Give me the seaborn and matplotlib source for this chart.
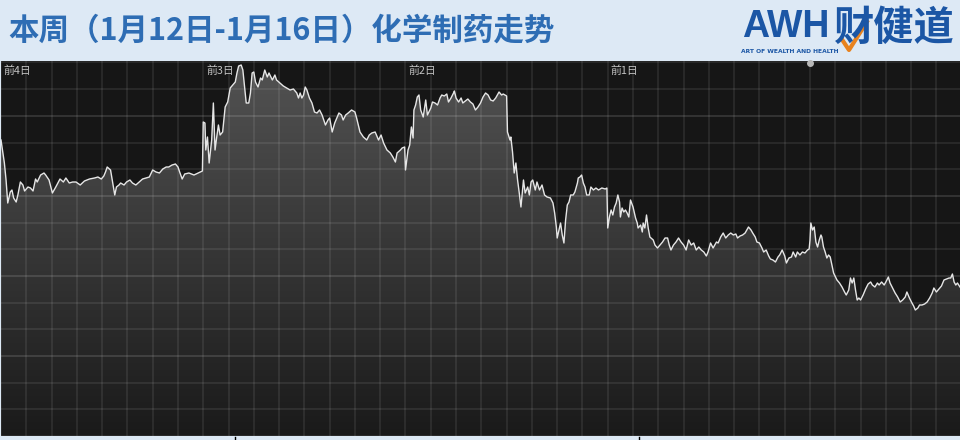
import numpy as np
import pandas as pd
import matplotlib.pyplot as plt
import seaborn as sns
from matplotlib.colors import LinearSegmentedColormap
from matplotlib.lines import Line2D

plt.rcParams["font.family"] = ["Noto Sans CJK SC", "DejaVu Sans"]

title = "本周（1月12日-1月16日）化学制药走势"
day_labels = ["前4日", "前3日", "前2日", "前1日"]

# minutes since the open and chart level, one pair per session
d1_min = [0, 4, 6, 8, 11, 13, 15, 18, 20, 23, 26, 28, 32, 35, 38, 41, 43, 47, 51, 53,
          57, 61, 65, 70, 74, 77, 81, 85, 89, 94, 99, 105, 111, 115, 119, 122, 124, 126, 130, 132,
          135, 137, 140, 142, 146, 149, 153, 156, 160, 164, 168, 172, 176, 180, 184, 188, 192, 196, 199, 203,
          207, 210, 212, 215, 218, 223, 229, 234, 239]
d1_val = [296, 273, 256, 233, 244, 246, 238, 234, 241, 254, 251, 245, 249, 248, 245, 257, 254, 261, 263, 261,
          256, 243, 249, 257, 254, 258, 253, 254, 254, 251, 255, 257, 258, 259, 257, 260, 264, 269, 266, 256,
          241, 249, 251, 253, 251, 254, 256, 253, 251, 254, 257, 258, 259, 266, 264, 263, 267, 269, 269, 271,
          272, 269, 264, 257, 262, 263, 261, 263, 265]

d2_min = [0, 2, 3, 5, 7, 10, 12, 14, 16, 18, 20, 23, 26, 29, 32, 35, 38, 40, 42, 45,
          47, 49, 51, 54, 56, 58, 60, 62, 65, 68, 70, 73, 76, 78, 82, 85, 87, 91, 95, 99,
          103, 107, 111, 113, 115, 117, 119, 121, 123, 126, 129, 132, 135, 138, 141, 145, 148, 150, 153, 156,
          159, 161, 164, 166, 169, 172, 176, 180, 182, 186, 190, 194, 197, 200, 204, 208, 211, 214, 218, 222,
          225, 228, 230, 234, 236, 239]
d2_val = [314, 313, 286, 299, 273, 296, 333, 286, 299, 311, 301, 304, 329, 334, 348, 351, 354, 363, 370, 371,
          366, 349, 333, 333, 343, 363, 364, 354, 349, 358, 356, 366, 359, 363, 356, 361, 356, 353, 350, 348,
          346, 347, 343, 338, 343, 338, 341, 349, 346, 338, 333, 324, 323, 326, 321, 311, 316, 318, 304, 313,
          319, 323, 321, 316, 321, 323, 326, 324, 318, 304, 299, 296, 301, 303, 304, 296, 301, 293, 286, 283,
          279, 274, 283, 286, 288, 289]

d3_min = [0, 3, 5, 7, 9, 10, 12, 14, 16, 18, 21, 24, 26, 30, 32, 35, 38, 41, 43, 46,
          49, 51, 54, 57, 58, 60, 63, 66, 68, 71, 74, 77, 80, 83, 86, 89, 92, 95, 98, 101,
          104, 107, 109, 111, 114, 116, 120, 121, 124, 125, 127, 129, 131, 133, 135, 137, 140, 142, 145, 147,
          149, 151, 154, 156, 159, 162, 165, 168, 172, 175, 177, 179, 180, 183, 184, 186, 188, 190, 192, 194,
          196, 199, 201, 204, 205, 207, 209, 211, 213, 215, 218, 220, 223, 226, 229, 233, 237, 239]
d3_val = [266, 286, 291, 309, 298, 326, 331, 339, 341, 326, 319, 336, 321, 328, 334, 333, 331, 338, 341, 340,
          342, 334, 338, 343, 345, 338, 334, 338, 333, 335, 337, 334, 332, 326, 329, 333, 339, 343, 341, 336,
          335, 338, 341, 344, 341, 342, 340, 304, 296, 299, 284, 263, 273, 256, 243, 229, 256, 243, 249, 241,
          254, 256, 246, 254, 246, 251, 241, 239, 238, 233, 223, 209, 198, 209, 213, 201, 193, 216, 231, 234,
          241, 241, 244, 253, 258, 259, 261, 253, 249, 241, 241, 249, 246, 248, 246, 248, 247, 248]

d4_min = [0, 2, 4, 6, 8, 10, 12, 14, 15, 17, 19, 21, 23, 25, 27, 30, 33, 35, 36, 39,
          41, 42, 44, 46, 48, 50, 54, 56, 59, 62, 65, 68, 71, 73, 75, 78, 81, 84, 87, 90,
          93, 96, 99, 102, 105, 108, 111, 114, 117, 119, 122, 125, 129, 131, 134, 137, 140, 143, 146, 149,
          152, 154, 157, 160, 163, 165, 167, 170, 172, 175, 177, 180, 183, 185, 188, 191, 193, 196, 199, 202,
          204, 207, 210, 212, 215, 218, 220, 223, 225, 228, 231, 234, 237, 239]
d4_val = [208, 219, 226, 221, 229, 233, 241, 234, 219, 228, 224, 226, 223, 219, 236, 229, 218, 213, 208, 211,
          204, 213, 208, 221, 208, 199, 196, 191, 188, 191, 194, 198, 198, 191, 186, 191, 194, 198, 194, 191,
          186, 196, 191, 193, 186, 189, 186, 184, 180, 184, 193, 188, 194, 193, 199, 203, 198, 201, 203, 201,
          202, 198, 200, 201, 203, 206, 209, 206, 203, 199, 194, 193, 188, 184, 186, 180, 177, 176, 174, 179,
          181, 186, 180, 173, 178, 179, 184, 179, 184, 181, 184, 183, 186, 187]

d5_min = [0, 1, 3, 5, 7, 9, 11, 13, 14, 16, 18, 20, 22, 24, 26, 28, 32, 35, 38, 41,
          43, 46, 48, 50, 52, 54, 56, 58, 60, 63, 66, 69, 72, 74, 77, 80, 82, 85, 88, 90,
          93, 95, 98, 101, 104, 107, 110, 113, 115, 118, 121, 123, 125, 128, 130, 133, 136, 139, 142, 145,
          147, 150, 153, 156, 159, 162, 165, 167, 169, 171, 173, 175, 178]
d5_val = [196, 213, 206, 209, 194, 189, 196, 201, 199, 189, 184, 178, 181, 179, 171, 163, 156, 153, 149, 144,
          141, 146, 158, 153, 158, 146, 136, 138, 136, 141, 147, 152, 154, 151, 149, 153, 151, 154, 151, 154,
          159, 153, 148, 143, 139, 134, 136, 139, 144, 138, 133, 130, 126, 128, 131, 131, 132, 134, 138, 143,
          148, 144, 147, 150, 156, 157, 158, 158, 162, 154, 151, 153, 149]

session_len = 240
frames = []
for i, (m, v) in enumerate(zip([d1_min, d2_min, d3_min, d4_min, d5_min],
                               [d1_val, d2_val, d3_val, d4_val, d5_val])):
    frames.append(pd.DataFrame({"t": np.array(m) + i * session_len, "val": v}))
df = pd.concat(frames, ignore_index=True)

xmax = 4 * session_len + 178
ymax = 375
HEADER_BG = "#dde9f5"

fig = plt.figure(figsize=(9.6, 4.4), dpi=100, facecolor=HEADER_BG)
ax = fig.add_axes([1 / 960, 4 / 440, 959 / 960, 375 / 440])
ax.set_facecolor("#161616")

# gradient fill under the line
poly = ax.fill_between(df["t"], df["val"], 0, facecolor="none", edgecolor="none")
cmap = LinearSegmentedColormap.from_list("fill", ["#1a1a1a", "#535353"])
grad = np.linspace(0, 1, 256).reshape(-1, 1)
im = ax.imshow(grad, cmap=cmap, aspect="auto", origin="lower",
               extent=(0, xmax, 0, ymax), zorder=1)
im.set_clip_path(poly.get_paths()[0], transform=ax.transData)

sns.lineplot(data=df, x="t", y="val", ax=ax, color="#e6e6e6", lw=1.0,
             estimator=None, sort=False, legend=False, zorder=4)

ax.set_xlim(0, xmax)
ax.set_ylim(0, ymax)
ax.set_xticks(np.arange(0, xmax, 30))
ax.set_yticks(np.arange(0, ymax, 26.68))
ax.grid(True, color="white", alpha=0.085, lw=1.3)
ax.set_axisbelow(False)
for k in range(3, 14, 3):
    ax.axhline(k * 26.68, color="white", alpha=0.05, lw=1.3, zorder=3)
ax.tick_params(length=0, labelbottom=False, labelleft=False)
ax.set_xlabel("")
ax.set_ylabel("")
for s in ax.spines.values():
    s.set_visible(False)

for i, lab in enumerate(day_labels):
    ax.annotate(lab, xy=(i * session_len, 1), xycoords=("data", "axes fraction"),
                xytext=(2, -3.5), textcoords="offset points", ha="left", va="top",
                color="#c4c4c4", fontsize=7.8, zorder=6)
ax.plot(4 * session_len, ymax - 2, "o", ms=4, color="#b8b8b8", clip_on=False, zorder=6)

# header
fig.text(8 / 960, 1 - 31 / 440, title, ha="left", va="center", fontsize=22,
         fontweight="bold", color="#2e6db4")
fig.text(742 / 960, 1 - 27 / 440, "AWH", ha="left", va="center", fontsize=27,
         fontweight="bold", color="#1b56a5", family="Liberation Sans")
fig.text(834 / 960, 1 - 28 / 440, "财健道", ha="left", va="center", fontsize=29,
         fontweight="bold", color="#1b56a5")
fig.text(741 / 960, 1 - 51 / 440, "ART OF WEALTH AND HEALTH", ha="left", va="center",
         fontsize=4.3, fontweight="bold", color="#1b56a5", family="DejaVu Sans")
fig.add_artist(Line2D([841 / 960, 849 / 960, 868 / 960], [1 - 38 / 440, 1 - 50 / 440, 1 - 20 / 440],
                      color="#e8821e", lw=3, solid_capstyle="butt"))

# small marks in the bottom strip
for xp in (235, 639):
    fig.add_artist(Line2D([xp / 960, xp / 960], [0, 3 / 440], color="black", lw=1))

fig.savefig("out.png", dpi=100, facecolor=HEADER_BG)
